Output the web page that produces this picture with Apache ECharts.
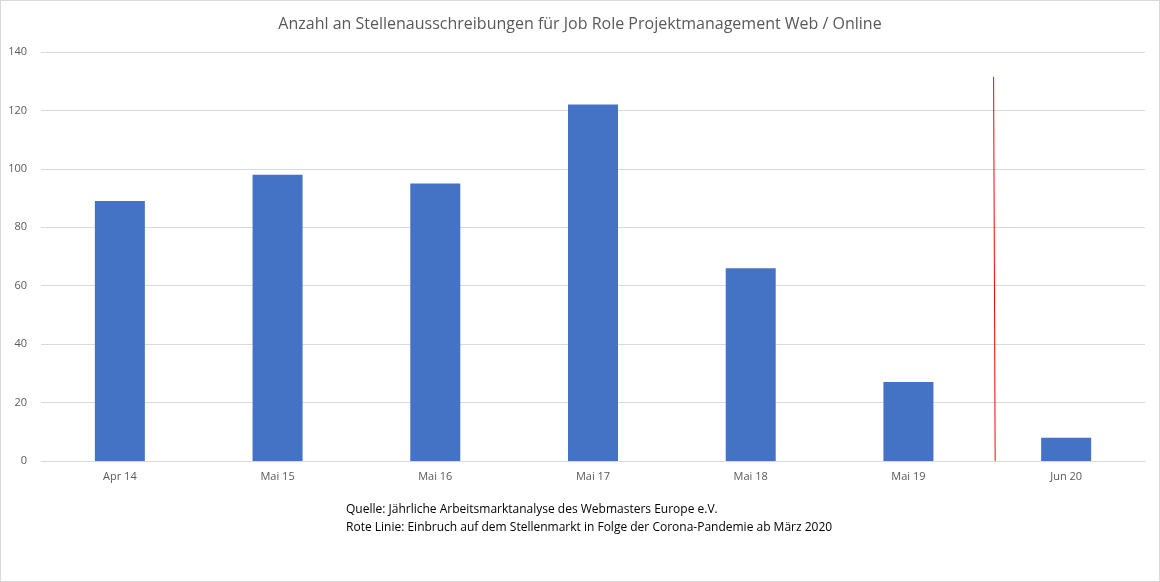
<!DOCTYPE html>
<html>
<head>
<meta charset="utf-8">
<script src="https://cdn.jsdelivr.net/npm/echarts@6/dist/echarts.min.js"></script>
<style>
  html, body { margin: 0; padding: 0; background: #fff; }
  #main { width: 1158px; height: 580px; border: 1px solid #d9d9d9; }
</style>
</head>
<body>
<div id="main"></div>
<script>
// Daten
const categories = ['Apr 14', 'Mai 15', 'Mai 16', 'Mai 17', 'Mai 18', 'Mai 19', 'Jun 20'];
const values = [89, 98, 95, 122, 66, 27, 8];
const yTicks = [0, 20, 40, 60, 80, 100, 120, 140];
// rote Linie: Position zwischen Mai 19 und Jun 20 (Kategorie-Index), Höhe
const redLine = [[5.55, 0], [5.54, 131.5]];

const chart = echarts.init(document.getElementById('main'));
chart.setOption({
  animation: false,
  title: {
    text: 'Anzahl an Stellenausschreibungen für Job Role Projektmanagement Web / Online',
    left: 'center', top: 10,
    textStyle: { fontFamily: 'Open Sans', fontSize: 16, fontWeight: 'normal', color: '#595959' }
  },
  grid: { left: 40, right: 14, top: 51, bottom: 120 },
  xAxis: [{
    type: 'category', data: categories,
    axisTick: { show: false },
    axisLine: { lineStyle: { color: '#d9d9d9' } },
    axisLabel: { color: '#595959', fontSize: 11, fontFamily: 'Open Sans', margin: 10 }
  }, {
    type: 'value', min: -0.5, max: 6.5, show: false
  }],
  yAxis: {
    type: 'value', min: yTicks[0], max: yTicks[yTicks.length - 1], interval: 20,
    axisLine: { show: false }, axisTick: { show: false },
    splitLine: { lineStyle: { color: '#d9d9d9' } },
    axisLabel: { color: '#595959', fontSize: 11, fontFamily: 'Open Sans', margin: 14 }
  },
  series: [{
    type: 'bar', data: values, barWidth: 50,
    itemStyle: { color: '#4472c4' }
  }, {
    type: 'line', xAxisIndex: 1, data: redLine, symbol: 'none',
    lineStyle: { color: '#ff0000', width: 1 }
  }],
  graphic: [{
    type: 'text', left: 345, top: 500,
    style: {
      text: 'Quelle: Jährliche Arbeitsmarktanalyse des Webmasters Europe e.V.\nRote Linie: Einbruch auf dem Stellenmarkt in Folge der Corona-Pandemie ab März 2020',
      font: '12px "Open Sans"', fill: '#000', lineHeight: 18
    }
  }]
});
</script>
</body>
</html>
